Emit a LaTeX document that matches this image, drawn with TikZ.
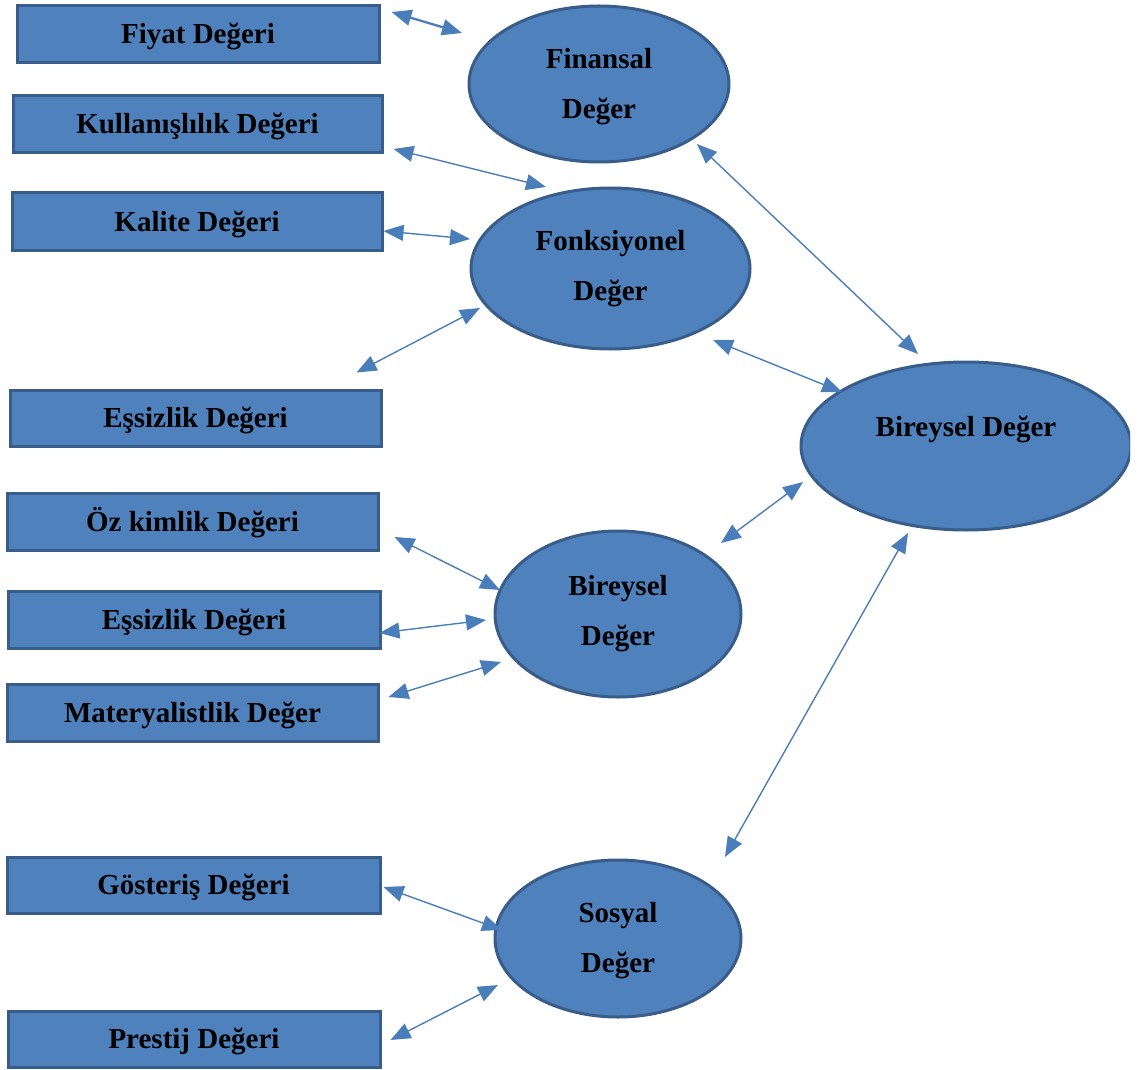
\documentclass[tikz,border=0pt]{standalone}
\usepackage{fontspec}
\setmainfont{Liberation Serif}
\usetikzlibrary{arrows.meta,shapes.geometric}
\definecolor{boxfill}{RGB}{79,129,189}
\definecolor{boxline}{RGB}{56,93,138}
\definecolor{linkcol}{RGB}{74,126,187}
\begin{document}
\begin{tikzpicture}[x=1pt,y=-1pt,
  valuebox/.style={draw=boxline,fill=boxfill,line width=3pt,rectangle,inner sep=0pt,
    minimum height=57pt,text height=20pt,text depth=1pt,
    font=\fontsize{29}{50}\selectfont\bfseries},
  valueellipse/.style={draw=boxline,fill=boxfill,line width=3pt,ellipse,inner sep=0pt,
    align=center,font=\fontsize{29}{50}\selectfont\bfseries},
  tip/.tip={Triangle[length=20pt,width=16pt]},
  link/.style={draw=linkcol,line width=1.4pt,tip-tip},
  thicklink/.style={link,line width=2.3pt}]
\useasboundingbox (0,0) rectangle (1144,1070);

% value boxes on the left
\node[valuebox,minimum width=362pt] (fiyat)    at (198,34.5)   {Fiyat Değeri};
\node[valuebox,minimum width=369pt] (kullanis) at (197.5,124.5) {Kullanışlılık Değeri};
\node[valuebox,minimum width=370pt] (kalite)   at (197,221.5)  {Kalite Değeri};
\node[valuebox,minimum width=371pt,minimum height=56pt] (essiza) at (195.5,418) {Eşsizlik Değeri};
\node[valuebox,minimum width=371pt] (ozkimlik) at (192.5,521.5) {Öz kimlik Değeri};
\node[valuebox,minimum width=372pt] (essizb)   at (194,619.5)  {Eşsizlik Değeri};
\node[valuebox,minimum width=371pt] (materyal) at (192.5,712.5) {Materyalistlik Değer};
\node[valuebox,minimum width=373pt,minimum height=56pt] (gosteris) at (193.5,885) {Gösteriş Değeri};
\node[valuebox,minimum width=372pt,minimum height=56pt] (prestij)  at (194,1039)  {Prestij Değeri};

% grouping ellipses
\node[valueellipse,minimum width=260pt,minimum height=156pt] (finansal) at (599,84) {\rule{0pt}{26pt}Finansal\\Değer};
\node[valueellipse,minimum width=279pt,minimum height=161pt] (fonks) at (610.5,268.5) {Fonksiyonel\\Değer};
\node[valueellipse,minimum width=246pt,minimum height=166pt] (bireym) at (618,614) {Bireysel\\Değer};
\node[valueellipse,minimum width=246pt,minimum height=157pt] (sosyal) at (618,938.5) {\rule{0pt}{24pt}Sosyal\\Değer};
\begin{scope}
  \clip (0,0) rectangle (1130,1070);
  \node[valueellipse,minimum width=330pt,minimum height=168pt,text depth=40pt] (bireyr) at (966,446) {Bireysel Değer};
\end{scope}

% connectors
\draw[thicklink] ([shift={(11,-22.5)}]fiyat.east) -- ([shift={(-137,-51)}]finansal.center);
\draw[link] ([shift={(10,24.5)}]kullanis.east) -- ([shift={(-64.5,-81.5)}]fonks.center);
\draw[link] ([shift={(0,9.5)}]kalite.east) -- ([shift={(-140.5,-29.5)}]fonks.center);
\draw[link] ([shift={(-26,-16)}]essiza.north east) -- ([shift={(-130.5,39.5)}]fonks.center);
\draw[link] ([shift={(98,60)}]finansal.center) -- ([shift={(-48,-92)}]bireyr.center);
\draw[link] ([shift={(102.5,71.5)}]fonks.center) -- ([shift={(-124,-54)}]bireyr.center);
\draw[link] ([shift={(15,15.5)}]ozkimlik.east) -- ([shift={(-118,-24)}]bireym.center);
\draw[link] ([shift={(-2,13.5)}]essizb.east) -- ([shift={(-132,6)}]bireym.center);
\draw[link] ([shift={(9,-15.5)}]materyal.east) -- ([shift={(-117,48)}]bireym.center);
\draw[link] ([shift={(103,-71)}]bireym.center) -- ([shift={(-163,36)}]bireyr.center);
\draw[link] ([shift={(107,-81.5)}]sosyal.center) -- ([shift={(-58,87)}]bireyr.center);
\draw[link] ([shift={(2,2)}]gosteris.east) -- ([shift={(-116,-8.5)}]sosyal.center);
\draw[link] ([shift={(9,1)}]prestij.east) -- ([shift={(-120,46.5)}]sosyal.center);
\end{tikzpicture}
\end{document}
